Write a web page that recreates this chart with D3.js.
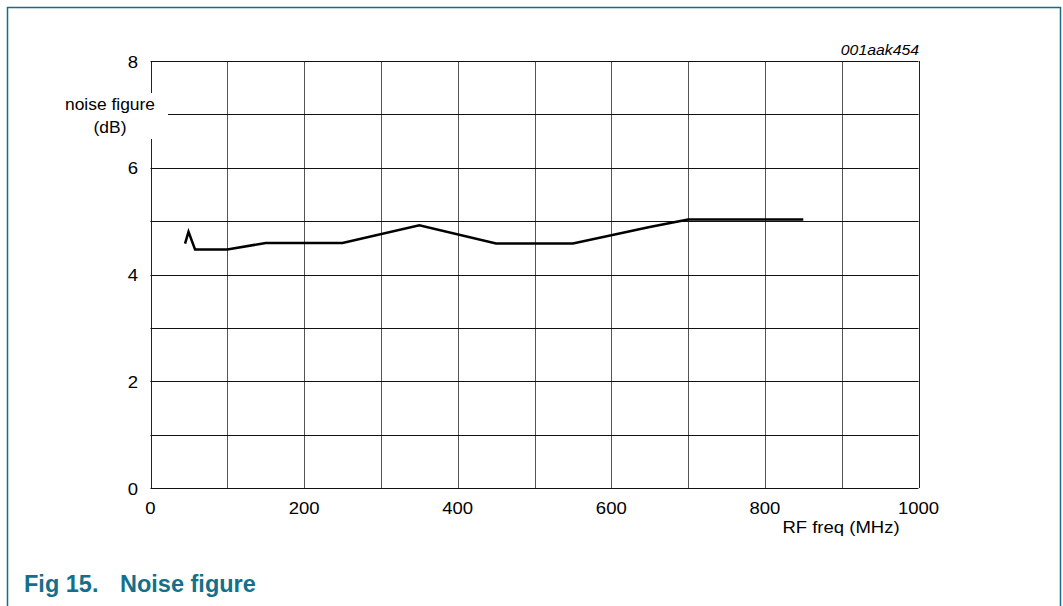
<!DOCTYPE html>
<html>
<head>
<meta charset="utf-8">
<script src="https://cdn.jsdelivr.net/npm/d3@7"></script>
<style>
  body { margin: 0; background: #fff; font-family: "Liberation Sans", Arial, sans-serif; }
</style>
</head>
<body>
<div id="container"><svg></svg></div>
<script>
let width = 1063;
let height = 606;

// noise figure curve (MHz, dB)
let freq = [45, 49.5, 58, 100, 150, 250, 350, 450, 550, 650, 700, 750, 850];
let nf = [4.58, 4.80, 4.47, 4.47, 4.59, 4.59, 4.92, 4.58, 4.58, 4.89, 5.03, 5.03, 5.03];
let xTicks = [0, 200, 400, 600, 800, 1000];
let yTicks = [0, 2, 4, 6, 8];

// text is a bit wider than normal in the original
let stretch = 1.09;

function put_text(sel, px, py, str, size, anchor) {
    return sel.append('text')
        .attr('transform', 'translate(' + px + ',' + py + ') scale(' + stretch + ',1)')
        .attr('text-anchor', anchor || 'start')
        .attr('font-size', size)
        .text(str);
}

function draw_chart() {
    let svg = d3.select('#container').select('svg')
        .attr('width', width)
        .attr('height', height);

    let teal = '#14708a';

    // frame
    svg.append('rect')
        .attr('x', 7.5).attr('y', 7.5)
        .attr('width', 1053).attr('height', 620)
        .attr('fill', 'none')
        .attr('stroke', '#1b6b80')
        .attr('stroke-width', 1.5);

    let x = d3.scaleLinear().domain([0, 1000]).range([150.5, 918.5]);
    let y = d3.scaleLinear().domain([0, 8]).range([488, 61]);

    let g = svg.append('g');

    // vertical grid
    g.selectAll('.vgrid')
        .data(d3.range(0, 1001, 100))
        .enter()
        .append('line')
        .attr('x1', d => Math.round(x(d)) + 0.5)
        .attr('x2', d => Math.round(x(d)) + 0.5)
        .attr('y1', y(0)).attr('y2', y(8))
        .attr('stroke', d => (d == 0 || d == 1000) ? '#222' : '#555')
        .attr('stroke-width', 1);

    // horizontal grid
    g.selectAll('.hgrid')
        .data(d3.range(0, 9, 1))
        .enter()
        .append('line')
        .attr('x1', x(0)).attr('x2', x(1000))
        .attr('y1', d => Math.round(y(d)) + 0.5)
        .attr('y2', d => Math.round(y(d)) + 0.5)
        .attr('stroke', '#111')
        .attr('stroke-width', 1);

    // y label, with white box hiding the grid behind it
    g.append('rect')
        .attr('x', 58).attr('y', 93)
        .attr('width', 110).attr('height', 46)
        .attr('fill', '#fff');
    put_text(g, 110, 110, 'noise figure', 16, 'middle');
    put_text(g, 110, 133, '(dB)', 16, 'middle');

    // tick labels
    yTicks.forEach(d => put_text(g, 138, y(d) + 6.5, d, 17, 'end'));
    xTicks.forEach(d => put_text(g, x(d), 514, d, 17, 'middle'));

    put_text(g, 841, 533, 'RF freq (MHz)', 17, 'middle');

    put_text(g, 919, 55, '001aak454', 14.5, 'end')
        .attr('font-style', 'italic');

    // curve
    let line = d3.line()
        .x((d, i) => x(freq[i]))
        .y((d, i) => y(nf[i]));
    g.append('path')
        .datum(nf)
        .attr('d', line)
        .attr('fill', 'none')
        .attr('stroke', '#000')
        .attr('stroke-width', 2.5)
        .attr('stroke-linejoin', 'miter');

    // caption
    svg.append('text')
        .attr('x', 24).attr('y', 592)
        .attr('font-size', 23.5)
        .attr('font-weight', 'bold')
        .attr('fill', teal)
        .text('Fig 15.');
    svg.append('text')
        .attr('x', 120).attr('y', 592)
        .attr('font-size', 23.5)
        .attr('font-weight', 'bold')
        .attr('fill', teal)
        .text('Noise figure');
}

draw_chart();
</script>
</body>
</html>
